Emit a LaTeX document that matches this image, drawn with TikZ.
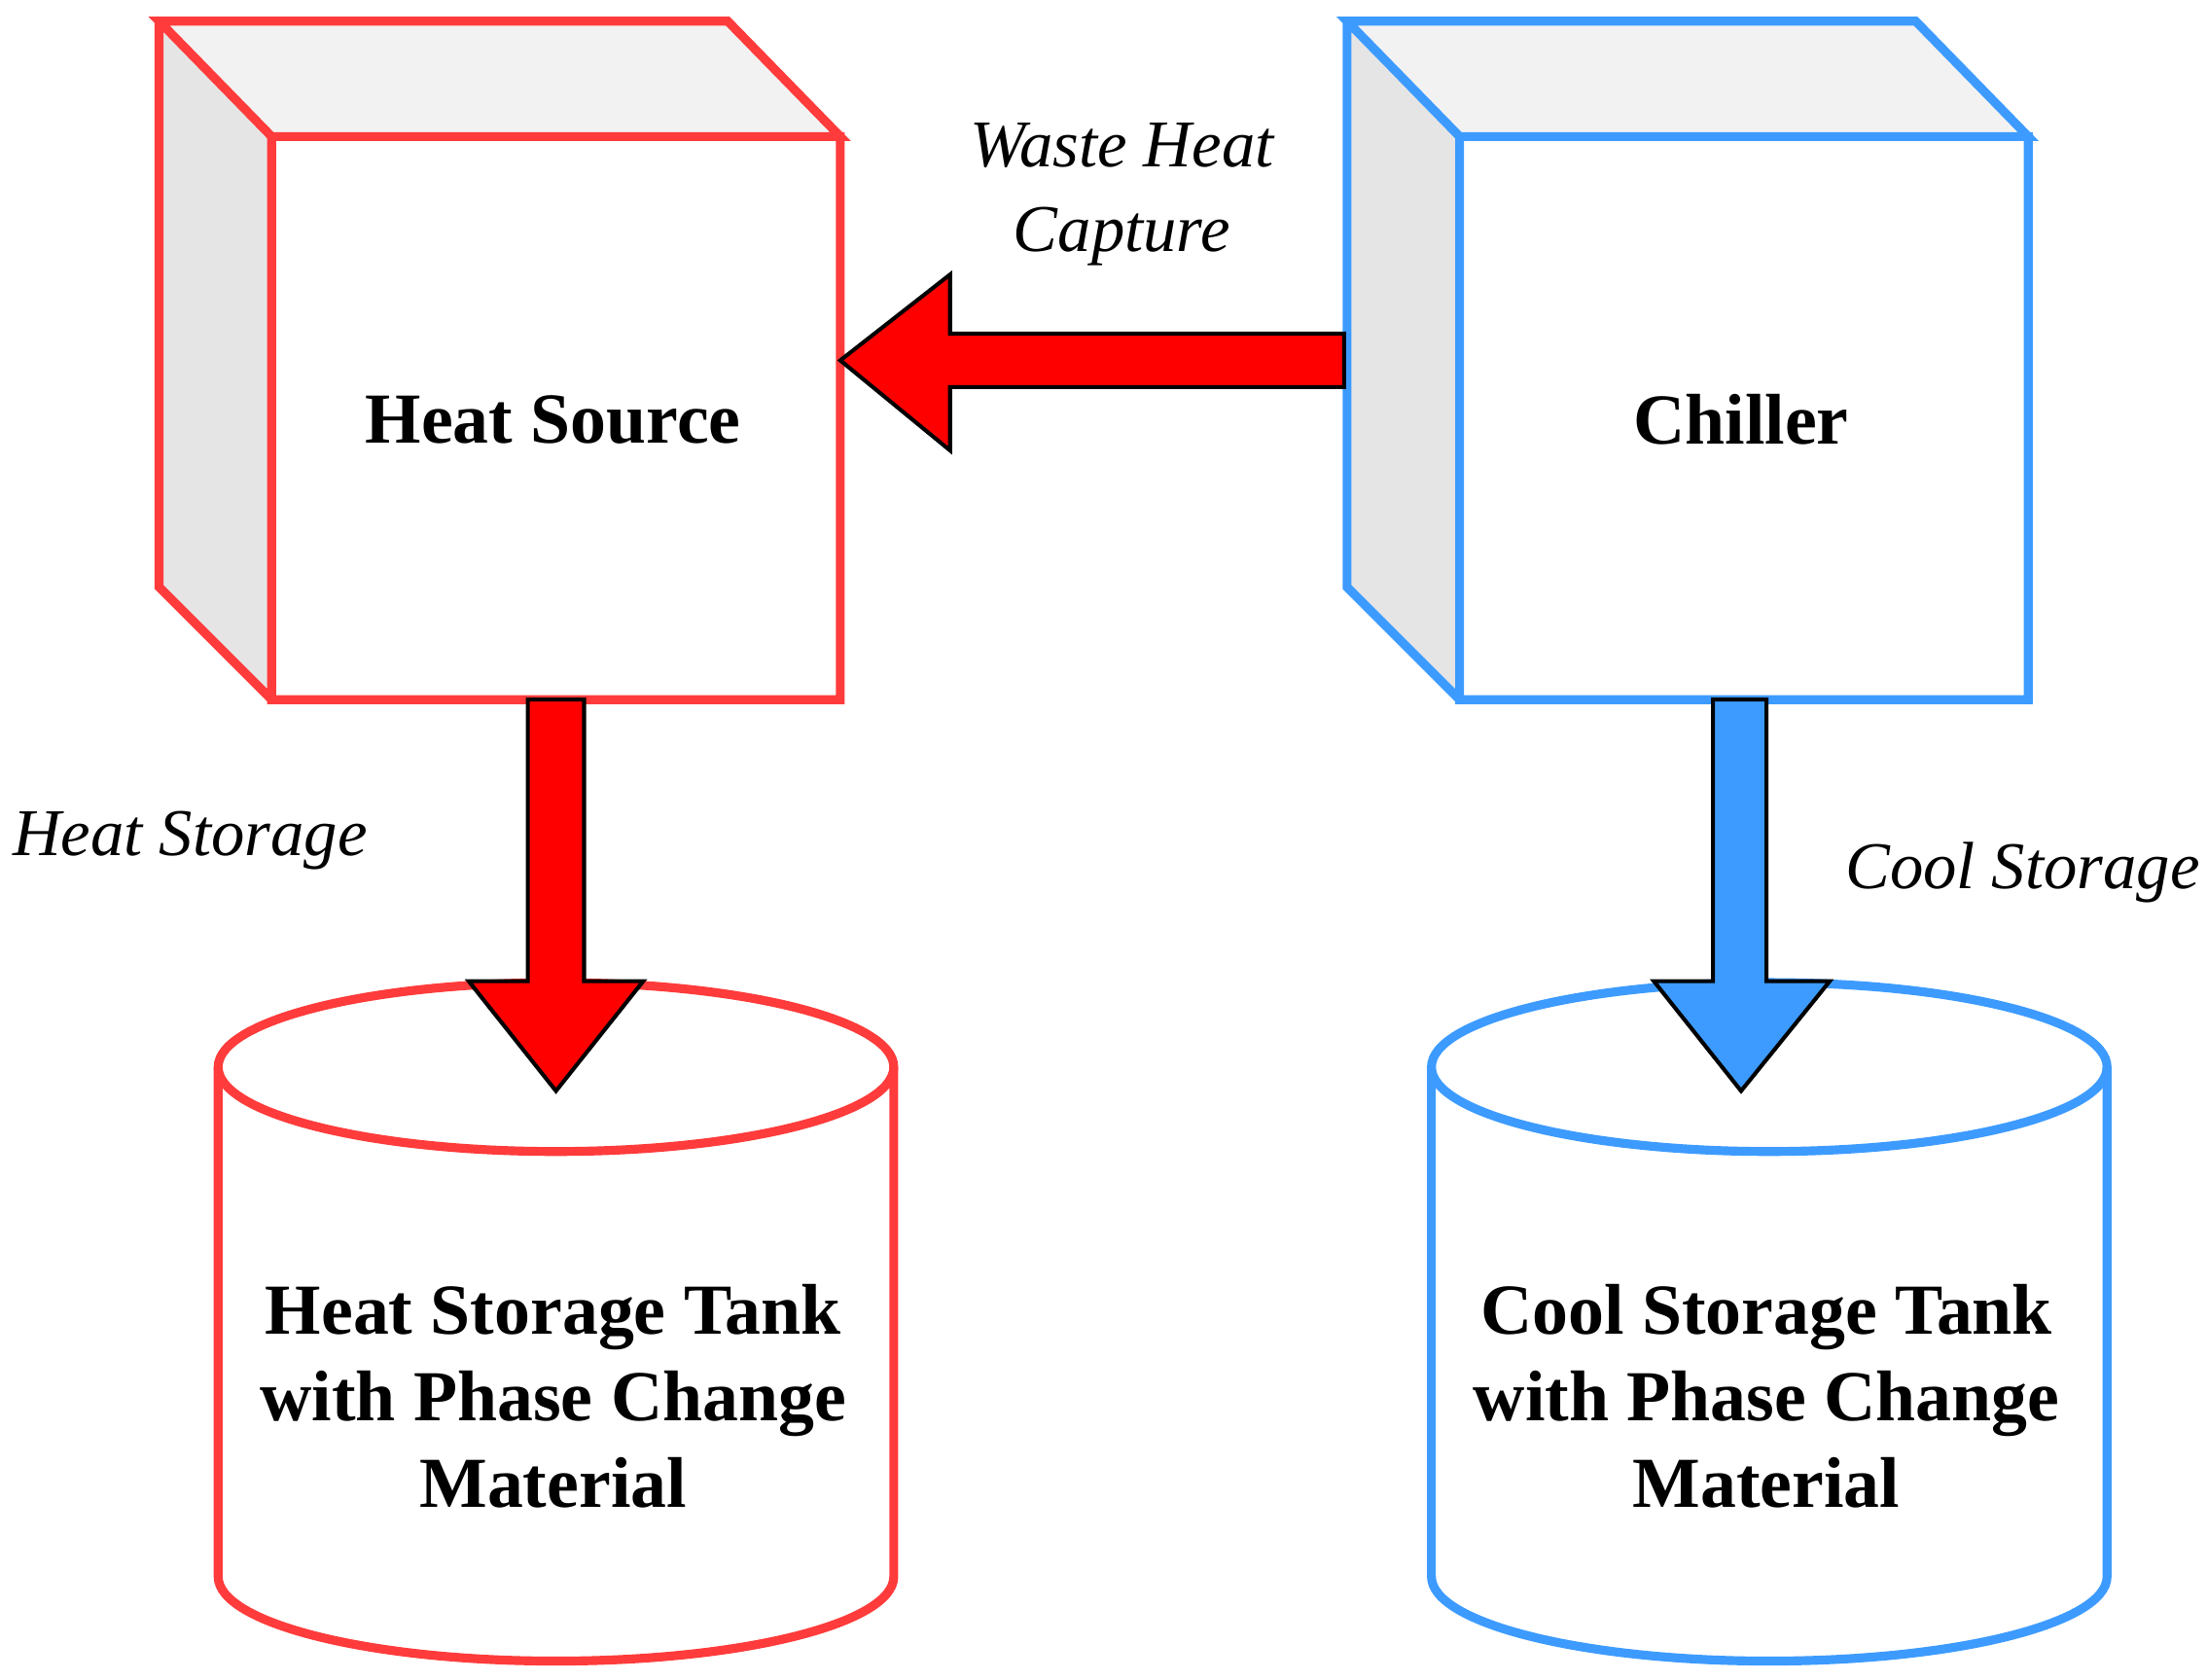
\documentclass[tikz,border=0pt]{standalone}
\usepackage{fontspec}
\setmainfont{Liberation Serif}
\begin{document}
\begin{tikzpicture}[x=0.01cm,y=-0.01cm,
 arr/.style={draw=black,line width=0.8pt,line join=miter},
 lbl/.style={font=\fontsize{13.5}{17}\selectfont\itshape,align=center},
 ttl/.style={font=\fontsize{14.5}{17.5}\selectfont\bfseries,align=center}]
\definecolor{hr}{HTML}{FF3B3B}\definecolor{cb}{HTML}{3D9BFF}
\useasboundingbox (0,0) rectangle (1568,1193);
\foreach \dx/\col in {0/hr,844/cb}{
\begin{scope}[xshift=\dx*0.01cm]
\fill[gray!10] (113,15)--(517,15)--(597,97)--(193,97)--cycle;
\fill[gray!20] (113,15)--(193,97)--(193,497)--(113,417)--cycle;
\draw[\col,line width=1.8pt,line join=miter] (113,15)--(517,15)--(597,97)--(193,97)--cycle (113,15)--(113,417)--(193,497) (193,97) rectangle (597,497);
\end{scope}}
\node[ttl] (hs) at (393,298) {Heat Source};
\node[ttl] (ch) at (1237,298) {Chiller};
\foreach \cx/\col in {395/hr,1257/cb}{
\draw[\col,line width=1.8pt,fill=white] (\cx-240,758)--(\cx-240,1120) arc[start angle=180,end angle=360,x radius=240,y radius=-60]--(\cx+240,758);
\draw[\col,line width=1.8pt] (\cx,758) ellipse[x radius=240,y radius=60];}
\node[ttl] (ht) at (393,992) {Heat Storage Tank\\with Phase Change\\Material};
\node[ttl] (ct) at (1255,992) {Cool Storage Tank\\with Phase Change\\Material};
\draw[arr,fill=red] (955,237)--(675,237)--(675,195)--(597,256)--(675,320)--(675,275)--(955,275)--cycle;
\draw[arr,fill=red] (375,497)--(375,697)--(333,697)--(395,775)--(457,697)--(415,697)--(415,497)--cycle;
\draw[arr,fill=cb] (1217,497)--(1217,697)--(1175,697)--(1237,775)--(1300,697)--(1255,697)--(1255,497)--cycle;
\node[lbl] (wh) at (797,138) {Waste Heat\\Capture};
\node[lbl] (hl) at (135,597) {Heat Storage};
\node[lbl] (cl) at (1437,620) {Cool Storage};
\end{tikzpicture}
\end{document}
